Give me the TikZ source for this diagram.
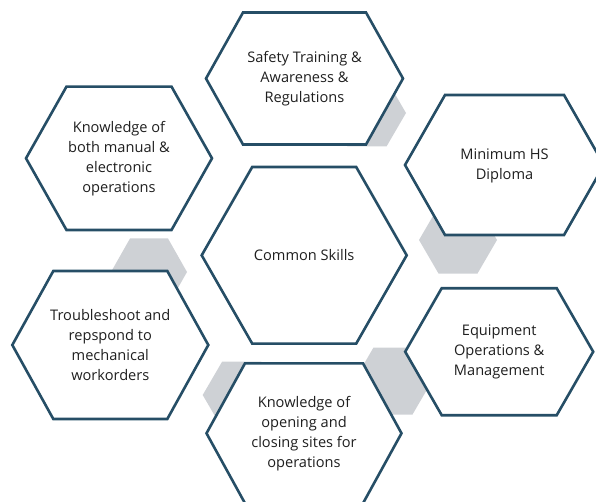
\documentclass[tikz,border=0pt]{standalone}
\usepackage{fontspec}
\setmainfont{Open Sans}
\usepackage{tikz}

\definecolor{hexline}{HTML}{264E66}
\definecolor{hexgray}{HTML}{CED1D5}

% hexagon with flat top: centre, half width, half height, corner inset
\newcommand{\hexagon}[5][]{%
  \draw[#1,shift={#2}] (-#3,0) -- (-#3+#5,-#4) -- (#3-#5,-#4)
    -- (#3,0) -- (#3-#5,#4) -- (-#3+#5,#4) -- cycle;}

\tikzset{
  skill/.style={hexline,line width=2.6pt,fill=white,line join=miter},
  backhex/.style={fill=hexgray,draw=none},
  label/.style={align=center,font=\fontsize{14.6}{20}\selectfont,text=black!88}
}

\begin{document}
\begin{tikzpicture}[x=1pt,y=-1pt]
    \useasboundingbox (0,0) rectangle (596,502);

    % grey fillers behind the ring
    \hexagon[backhex]{(367,113)}{39}{33.5}{19.5}
    \hexagon[backhex]{(458,240)}{39}{33.5}{19.5}
    \hexagon[backhex]{(149,272)}{38}{33.5}{19}
    \hexagon[backhex]{(241.7,395)}{39}{33.5}{19.5}
    \hexagon[backhex]{(393,381)}{39}{33.5}{19.5}

    % outlined hexagons
    \hexagon[skill]{(304.2,255.3)}{102.5}{88.3}{50.5}
    \hexagon[skill]{(304.5,78.5)}{98.5}{66}{37}
    \hexagon[skill]{(504.5,165)}{99.5}{70}{40}
    \hexagon[skill]{(119,158.3)}{93}{71.7}{40.5}
    \hexagon[skill]{(110.3,345)}{98}{74}{41}
    \hexagon[skill]{(304,433.3)}{97.5}{70}{38.5}
    \hexagon[skill]{(499.2,351.7)}{94}{63.5}{36.5}

    \path (304.2,255.3) node [label] (skills) {Common Skills};
    \path (304.5,78.5) node [label] (safety) {Safety Training \&\\Awareness \&\\Regulations};
    \path (504.5,166) node [label] (diploma) {Minimum HS\\Diploma};
    \path (119,158.3) node [label] (manual) {Knowledge of\\both manual \&\\electronic\\operations};
    \path (110.3,345) node [label] (trouble) {Troubleshoot and\\repspond to\\mechanical\\workorders};
    \path (304,433.3) node [label] (sites) {Knowledge of\\opening and\\closing sites for\\operations};
    \path (499.2,352) node [label] (equipment) {Equipment\\Operations \&\\Management};
\end{tikzpicture}
\end{document}
